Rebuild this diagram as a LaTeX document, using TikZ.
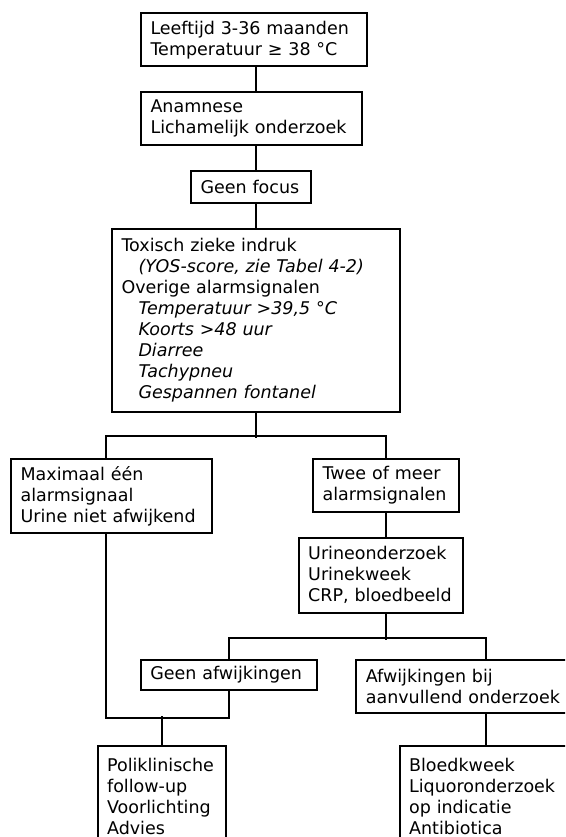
\documentclass[tikz,border=0pt]{standalone}
\usepackage{fontspec}
\setmainfont{DejaVu Sans}
\usepackage{tikz}
\usetikzlibrary{positioning,calc}

\newcommand{\boxfont}{\fontsize{17.5}{21}\selectfont}
\newcommand{\indline}[1]{\hspace*{17pt}\textit{#1}}

\begin{document}
\begin{tikzpicture}[
  x=1pt, y=-1pt,
  flowbox/.style={draw, line width=2pt, fill=white, anchor=north west, align=left,
    inner xsep=9.5pt, inner ysep=0pt, font=\boxfont},
  link/.style={line width=2pt}
]
  \useasboundingbox (0,0) rectangle (565,837);
  \clip (0,0) rectangle (565,837);

  % top column
  \node[flowbox, text width=207pt, minimum height=53pt] (leeftijd) at (140,12.3)
    {Leeftijd 3-36 maanden\\Temperatuur ≥ 38 °C};
  \node[flowbox, text width=202pt, minimum height=53.3pt] (anamnese) at (140,91)
    {Anamnese\\Lichamelijk onderzoek};
  \node[flowbox, text width=101pt, minimum height=31.4pt] (focus) at (190,170.3)
    {Geen focus};
  \node[flowbox, text width=269pt, minimum height=182.7pt] (toxisch) at (111,228)
    {Toxisch zieke indruk\\\indline{(YOS-score, zie Tabel 4-2)}\\Overige alarmsignalen\\
     \indline{Temperatuur >39,5 °C}\\\indline{Koorts >48 uur}\\\indline{Diarree}\\
     \indline{Tachypneu}\\\indline{Gespannen fontanel}};

  % branches
  \node[flowbox, text width=182pt, minimum height=74.6pt] (maximaal) at (10.1,457.7)
    {Maximaal één\\alarmsignaal\\Urine niet afwijkend};
  \node[flowbox, text width=127pt, minimum height=53pt] (twee) at (312.1,457.7)
    {Twee of meer\\alarmsignalen};
  \node[flowbox, text width=145pt, minimum height=75pt] (urine) at (297.7,536.7)
    {Urineonderzoek\\Urinekweek\\CRP, bloedbeeld};
  \node[flowbox, text width=157pt, minimum height=30.6pt] (geenafw) at (139.8,658.7)
    {Geen afwijkingen};
  \node[flowbox, text width=241pt, minimum height=53.3pt] (afwijk) at (355.3,658.7)
    {Afwijkingen bij\\aanvullend onderzoek};
  \node[flowbox, text width=109pt, minimum height=100pt] (poli) at (96.6,745)
    {Poliklinische\\follow-up\\Voorlichting\\Advies};
  \node[flowbox, text width=156pt, minimum height=100pt] (bloed) at (398.6,745)
    {Bloedkweek\\Liquoronderzoek\\op indicatie\\Antibiotica};

  \draw[link] (leeftijd.south -| toxisch.north) -- (anamnese.north -| toxisch.north);
  \draw[link] (anamnese.south -| toxisch.north) -- (focus.north -| toxisch.north);
  \draw[link] (focus.south -| toxisch.north) -- (toxisch.north);
  \draw[link] (toxisch.south) -- ++(0,25.3);
  \draw[link] ([xshift=-6pt]maximaal.north) -- ++(0,-21.7) -| (twee.north);
  \draw[link] (twee.south) -- (twee.south |- urine.north);
  \draw[link] (urine.south -| twee.south) -- ++(0,26.3);
  \draw[link] (geenafw.north) -- ++(0,-20.7) -| (afwijk.north);
  \draw[link] ([xshift=-6pt]maximaal.south) -- ++(0,183.7) -| (geenafw.south);
  \draw[link] (poli.north) -- ++(0,-29);
  \draw[link] (afwijk.south) -- (afwijk.south |- bloed.north);
\end{tikzpicture}
\end{document}
